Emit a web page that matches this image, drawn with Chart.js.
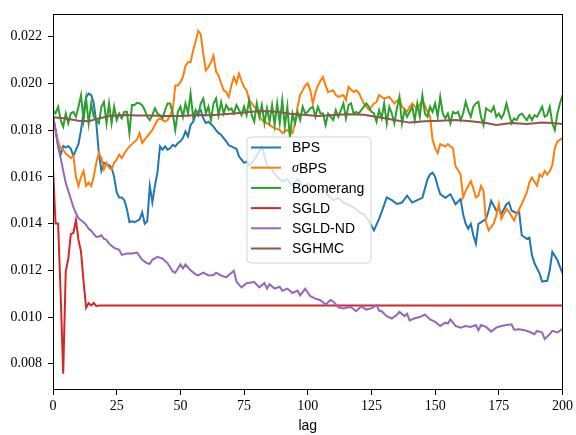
<!DOCTYPE html>
<html>
<head>
<meta charset="utf-8">
<script src="https://cdn.jsdelivr.net/npm/chart.js@4.4.1/dist/chart.umd.min.js"></script>
<style>
  html, body { margin: 0; padding: 0; background: #ffffff; }
  #wrap { width: 576px; height: 435px; }
</style>
</head>
<body>
<div id="wrap"><canvas id="c" width="576" height="435"></canvas></div>
<script>
// Autocorrelation-style traces against lag for six samplers.

const seriesNames = ['BPS', 'σBPS', 'Boomerang', 'SGLD', 'SGLD-ND', 'SGHMC'];
const seriesColors = ['#1f77b4', '#ff7f0e', '#2ca02c', '#d62728', '#9467bd', '#8c564b'];

const xTicks = [0, 25, 50, 75, 100, 125, 150, 175, 200];
const yTicks = [0.008, 0.010, 0.012, 0.014, 0.016, 0.018, 0.020, 0.022];

const bpsLag = [0,1,2,3,4,5,6,7,8,9,10,11,12,13,14,15,16,17,18,19,20,21,22,23,24,25,26,27,28,29,30,31,32,33,34,35,36,37,38,39,40,41,42,43,44,45,46,47,48,49,50,51,52,53,54,55,56,57,58,59,60,61,62,63,64,65,66,67,68,69,70,71,72,73,74,75,76,77,78,80,82,84,86,88,90,92,94,96,98,100,102,104,106,108,110,112,114,116,118,120,122,124,126,128,130,131,133,135,137,139,141,143,145,147,148,149,150,151,152,154,156,158,160,161,162,163,164,165,166,167,168,170,171,172,174,175,176,178,179,180,182,183,184,186,187,188,189,191,192,194,195,196,198,200];
const bpsVal = [0.0186,0.0180,0.01732,0.01695,0.01732,0.01725,0.01732,0.01720,0.01690,0.01715,0.01740,0.0180,0.01880,0.01940,0.01956,0.01950,0.01914,0.01830,0.01700,0.01626,0.01660,0.01653,0.01650,0.01640,0.01600,0.01533,0.01512,0.01512,0.01500,0.01463,0.01406,0.01410,0.01406,0.01412,0.01418,0.01448,0.01399,0.01410,0.01561,0.01491,0.01561,0.01618,0.01730,0.01716,0.01730,0.01716,0.01722,0.01737,0.01730,0.01744,0.01752,0.01766,0.01794,0.01773,0.01822,0.01835,0.01865,0.01879,0.01886,0.01850,0.01830,0.01836,0.01825,0.01815,0.01800,0.01787,0.01780,0.01766,0.01752,0.01735,0.01730,0.01725,0.01720,0.01688,0.01674,0.01660,0.01665,0.01650,0.01660,0.01690,0.01730,0.01650,0.01630,0.01600,0.01580,0.01590,0.01560,0.01590,0.01560,0.01570,0.01560,0.01540,0.01550,0.01520,0.01500,0.01510,0.01490,0.01480,0.01470,0.01450,0.01440,0.01410,0.01371,0.01420,0.01480,0.01512,0.01500,0.01484,0.01490,0.01519,0.01490,0.01500,0.01510,0.01590,0.01610,0.01618,0.01600,0.01560,0.01526,0.01510,0.01526,0.01483,0.01505,0.01440,0.01399,0.01378,0.01399,0.01350,0.01314,0.01399,0.01405,0.01420,0.01456,0.01498,0.01456,0.01463,0.01441,0.01483,0.01490,0.01456,0.01445,0.01448,0.01350,0.01335,0.01340,0.01265,0.01230,0.01187,0.01152,0.01155,0.01200,0.01279,0.01244,0.01187];

const sbpsLag = [0,1,2,3,4,5,6,7,8,9,10,11,12,13,14,15,16,17,18,19,20,21,22,23,24,25,26,27,28,29,30,31,32,33,34,35,36,37,38,39,41,42,43,44,45,46,47,48,49,50,51,52,53,54,55,56,57,58,59,60,61,62,63,64,65,66,67,68,69,70,71,72,73,74,75,76,77,78,79,80,81,82,84,85,87,89,90,92,93,94,95,96,97,98,99,100,101,102,103,104,105,106,107,108,110,111,112,114,115,116,118,119,120,122,123,124,126,127,128,130,132,134,136,137,139,140,141,143,145,147,148,149,150,151,152,154,155,156,157,158,160,161,162,164,165,166,167,168,169,170,171,173,174,175,176,178,179,181,182,184,186,187,188,190,191,192,193,194,195,196,197,198,200];
const sbpsVal = [0.0186,0.01800,0.01750,0.01723,0.01716,0.01700,0.01690,0.01680,0.01690,0.01600,0.01561,0.01600,0.01625,0.01561,0.01575,0.01561,0.01600,0.01660,0.01702,0.01680,0.01632,0.01660,0.01640,0.01632,0.01660,0.01674,0.01695,0.01680,0.01700,0.01716,0.01730,0.01740,0.01750,0.01760,0.01787,0.01745,0.01759,0.01773,0.01787,0.01801,0.01843,0.01850,0.01843,0.01836,0.01843,0.01865,0.01886,0.01991,0.01991,0.02005,0.02027,0.02075,0.02090,0.02090,0.02139,0.02180,0.02224,0.02210,0.02125,0.02055,0.02070,0.02090,0.02118,0.02050,0.02033,0.02000,0.01970,0.01963,0.01942,0.01990,0.02027,0.02000,0.02041,0.02010,0.01984,0.01970,0.01928,0.01914,0.01900,0.01892,0.01860,0.01843,0.01830,0.01822,0.01808,0.01801,0.01787,0.01801,0.01790,0.01787,0.01830,0.01900,0.01950,0.01970,0.01990,0.02000,0.01970,0.01914,0.01960,0.01990,0.02012,0.02027,0.01990,0.01963,0.01970,0.01950,0.01942,0.01950,0.01928,0.01984,0.01963,0.01970,0.01960,0.01914,0.01900,0.01886,0.01914,0.01920,0.01950,0.01935,0.01942,0.01914,0.01935,0.01900,0.01879,0.01900,0.01914,0.01890,0.01928,0.01880,0.01858,0.01758,0.01723,0.01702,0.01740,0.01730,0.01740,0.01730,0.01723,0.01646,0.01610,0.01512,0.01540,0.01582,0.01550,0.01512,0.01520,0.01561,0.01540,0.01406,0.01371,0.01400,0.01434,0.01484,0.01420,0.01463,0.01450,0.01413,0.01440,0.01483,0.01533,0.01576,0.01597,0.01561,0.01610,0.01600,0.01625,0.01610,0.01625,0.01650,0.01723,0.01752,0.01766];

// Boomerang is recorded at every lag 0..200
const boomVal = [0.01886,0.01871,0.01900,0.01843,0.01815,0.01871,0.01829,0.01871,0.01878,0.01857,
0.01900,0.01949,0.01843,0.01935,0.01829,0.01914,0.01857,0.01843,0.01829,0.01900,
0.01920,0.01829,0.01914,0.01829,0.01900,0.01843,0.01871,0.01850,0.01878,0.01878,
0.01787,0.01907,0.01907,0.01917,0.01914,0.01907,0.01886,0.01857,0.01843,0.01864,
0.01893,0.01871,0.01864,0.01850,0.01886,0.01914,0.01914,0.01871,0.01801,0.01878,
0.01900,0.01857,0.01914,0.01871,0.01956,0.01857,0.01886,0.01864,0.01914,0.01935,
0.01871,0.01900,0.01843,0.01914,0.01935,0.01864,0.01920,0.01871,0.01907,0.01886,
0.01893,0.01871,0.01907,0.01886,0.01864,0.01900,0.01864,0.01928,0.01864,0.01836,
0.01914,0.01857,0.01907,0.01829,0.01893,0.01836,0.01907,0.01822,0.01914,0.01829,
0.01928,0.01815,0.01900,0.01766,0.01871,0.01829,0.01878,0.01843,0.01900,0.01871,
0.01878,0.01893,0.01900,0.01857,0.01900,0.01871,0.01871,0.01822,0.01871,0.01857,
0.01843,0.01885,0.01857,0.01885,0.01914,0.01850,0.01907,0.01914,0.01871,0.01878,
0.01871,0.01885,0.01900,0.01914,0.01900,0.01878,0.01871,0.01836,0.01885,0.01850,
0.01914,0.01829,0.01900,0.01871,0.01829,0.01893,0.01942,0.01829,0.01885,0.01857,
0.01878,0.01900,0.01843,0.01914,0.01857,0.01949,0.01871,0.01857,0.01900,0.01878,
0.01914,0.01857,0.01942,0.01871,0.01850,0.01871,0.01829,0.01878,0.01871,0.01878,
0.01843,0.01871,0.01921,0.01885,0.01857,0.01900,0.01914,0.01921,0.01857,0.01822,
0.01893,0.01885,0.01878,0.01900,0.01857,0.01871,0.01850,0.01871,0.01914,0.01871,
0.01829,0.01850,0.01843,0.01864,0.01871,0.01857,0.01843,0.01864,0.01843,0.01864,
0.01857,0.01878,0.01900,0.01857,0.01864,0.01900,0.01829,0.01801,0.01871,0.01914,
0.01949];
const boomLag = boomVal.map((_, i) => i);

const sgldLag = [0,1,2,3,4,5,6,7,8,9,10,11,12,13,14,15,16,17,18,200];
const sgldVal = [0.0164,0.0140,0.0140,0.0110,0.00758,0.01195,0.0125,0.01355,0.0136,0.01415,0.0133,0.0128,0.01152,0.0104,0.0106,0.0105,0.0106,0.01047,0.0105,0.0105];

const sgldndLag = [0,1,2,3,4,5,6,7,8,9,10,12,13,14,15,16,17,18,19,20,21,22,24,26,27,29,31,33,35,37,38,39,41,43,45,47,48,50,51,52,54,56,57,59,61,63,64,66,68,69,71,72,74,76,79,81,83,84,85,87,89,90,92,94,96,97,99,101,103,105,107,109,110,112,114,116,117,119,121,123,125,127,128,129,131,133,135,136,138,139,140,142,144,146,148,150,152,154,155,156,158,160,162,164,166,167,168,170,172,174,176,178,180,181,183,185,187,189,190,192,193,195,196,198,200];
const sgldndVal = [0.0186,0.0180,0.01730,0.01680,0.01626,0.01575,0.01540,0.01505,0.01470,0.01445,0.01423,0.01406,0.01395,0.01378,0.01370,0.01355,0.01343,0.01345,0.01350,0.01335,0.01330,0.01314,0.01296,0.01288,0.01266,0.01272,0.01272,0.01276,0.01245,0.01230,0.01228,0.01245,0.01258,0.01250,0.01230,0.01195,0.01190,0.01225,0.01208,0.01225,0.01200,0.01183,0.01178,0.01190,0.01178,0.01180,0.01190,0.01178,0.01170,0.01180,0.01198,0.01152,0.01127,0.01145,0.01150,0.01127,0.01145,0.01122,0.01140,0.01122,0.01130,0.01113,0.01122,0.01103,0.01113,0.01093,0.01121,0.01089,0.01079,0.01072,0.01054,0.01073,0.01067,0.01042,0.01037,0.01042,0.01042,0.01025,0.01046,0.01032,0.01037,0.01051,0.01028,0.01025,0.01004,0.00994,0.01010,0.01022,0.01004,0.01014,0.00986,0.00995,0.01000,0.01011,0.00990,0.00980,0.00962,0.00976,0.00972,0.00990,0.00962,0.00955,0.00962,0.00958,0.00966,0.00944,0.00966,0.00958,0.00938,0.00955,0.00962,0.00966,0.00969,0.00946,0.00948,0.00944,0.00937,0.00927,0.00941,0.00934,0.00906,0.00927,0.00941,0.00934,0.00950];

const sghmcLag = [0,5,10,14,18,22,28,33,38,45,50,57,62,67,72,78,82,88,93,98,104,110,116,122,128,134,140,146,152,158,164,170,174,180,186,192,196,200];
const sghmcVal = [0.01855,0.01850,0.01840,0.01838,0.01850,0.01860,0.01865,0.01862,0.01862,0.01860,0.01860,0.01865,0.01863,0.01868,0.01872,0.01878,0.01882,0.01878,0.01870,0.01866,0.01860,0.01865,0.01868,0.01866,0.01855,0.01843,0.01832,0.01838,0.01840,0.01843,0.01838,0.01830,0.01822,0.01830,0.01826,0.01832,0.01830,0.01826];

const lagSets = [bpsLag, sbpsLag, boomLag, sgldLag, sgldndLag, sghmcLag];
const valSets = [bpsVal, sbpsVal, boomVal, sgldVal, sgldndVal, sghmcVal];

const TICK_FONT = { family: '"Liberation Serif", "DejaVu Serif", serif', size: 14 };
const SANS = '"Liberation Sans", Arial, sans-serif';

const datasets = seriesNames.map((name, i) => ({
  label: name,
  data: lagSets[i].map((x, j) => ({ x: x, y: valSets[i][j] })),
  borderColor: seriesColors[i],
  backgroundColor: seriesColors[i],
  borderWidth: 2,
  pointRadius: 0,
  tension: 0,
  fill: false,
  order: seriesNames.length - i   // later series drawn on top
}));

// Axes frame on all four sides plus the boxed legend inside the plot
const framePlugin = {
  id: 'frameAndLegend',
  afterDatasetsDraw(chart) {
    const { ctx, chartArea: a } = chart;
    ctx.save();
    ctx.strokeStyle = '#000';
    ctx.lineWidth = 1;
    ctx.strokeRect(Math.round(a.left) + 0.5, Math.round(a.top) + 0.5,
                   Math.round(a.right - a.left) - 1, Math.round(a.bottom - a.top) - 1);

    // legend box
    const bx = 247, by = 137, bw = 124, bh = 126, r = 4;
    ctx.beginPath();
    ctx.moveTo(bx + r, by);
    ctx.arcTo(bx + bw, by, bx + bw, by + bh, r);
    ctx.arcTo(bx + bw, by + bh, bx, by + bh, r);
    ctx.arcTo(bx, by + bh, bx, by, r);
    ctx.arcTo(bx, by, bx + bw, by, r);
    ctx.closePath();
    ctx.fillStyle = 'rgba(255,255,255,0.8)';
    ctx.fill();
    ctx.strokeStyle = 'rgba(204,204,204,0.8)';
    ctx.lineWidth = 1;
    ctx.stroke();

    const rowY0 = 147.5, rowH = 20.2;
    seriesNames.forEach((name, i) => {
      const y = rowY0 + i * rowH;
      ctx.strokeStyle = seriesColors[i];
      ctx.lineWidth = 2;
      ctx.beginPath();
      ctx.moveTo(251, y);
      ctx.lineTo(281, y);
      ctx.stroke();
      ctx.fillStyle = '#000';
      ctx.textBaseline = 'middle';
      ctx.textAlign = 'left';
      let tx = 292;
      let text = name;
      if (name.startsWith('σ')) {
        ctx.font = 'italic 14px "Liberation Serif", serif';
        ctx.fillText('σ', tx, y + 1);
        tx += ctx.measureText('σ').width;
        text = name.slice(1);
      }
      ctx.font = '14px ' + SANS;
      ctx.fillText(text, tx, y + 1);
    });
    ctx.restore();
  }
};

new Chart(document.getElementById('c'), {
  type: 'line',
  data: { datasets },
  options: {
    responsive: false,
    animation: false,
    devicePixelRatio: 1,
    layout: { padding: { top: 10, right: 13, left: 0, bottom: 0 } },
    plugins: { legend: { display: false }, tooltip: { enabled: false } },
    scales: {
      x: {
        type: 'linear',
        min: 0, max: 200,
        afterBuildTicks: (s) => { s.ticks = xTicks.map(v => ({ value: v })); },
        afterFit: (s) => { s.height = 45; },
        grid: { display: true, drawOnChartArea: false, drawTicks: true, tickLength: 5, color: '#000', lineWidth: 1 },
        border: { display: false },
        ticks: { color: '#000', font: TICK_FONT, padding: 3, maxRotation: 0, autoSkip: false,
                 callback: (v) => String(v) },
        title: { display: true, text: 'lag', color: '#000',
                 font: { family: SANS, size: 14 }, padding: { top: 0, bottom: 0 } }
      },
      y: {
        type: 'linear',
        min: 0.00688, max: 0.02295,
        afterBuildTicks: (s) => { s.ticks = yTicks.map(v => ({ value: v })); },
        afterFit: (s) => { s.width = 53; },
        grid: { display: true, drawOnChartArea: false, drawTicks: true, tickLength: 5, color: '#000', lineWidth: 1 },
        border: { display: false },
        ticks: { color: '#000', font: TICK_FONT, padding: 6, autoSkip: false,
                 callback: (v) => v.toFixed(3) }
      }
    }
  },
  plugins: [framePlugin]
});
</script>
</body>
</html>
